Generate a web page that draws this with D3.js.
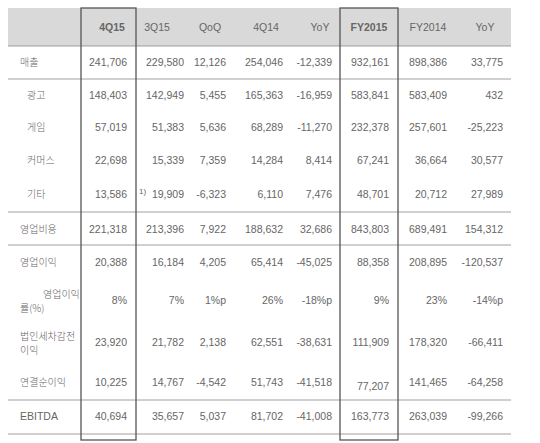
<!DOCTYPE html>
<html><head><meta charset="utf-8">
<script src="https://cdn.jsdelivr.net/npm/d3@7"></script>
<style>body{margin:0;background:#fff}text{font-family:"Liberation Sans","Noto Sans CJK KR",Arial,sans-serif}</style>
</head><body><div id="a"></div>
<script>
const columns = ["4Q15","3Q15","QoQ","4Q14","YoY","FY2015","FY2014","YoY"]
const rowLabels = ["매출","광고","게임","커머스","기타","영업비용","영업이익","영업이익률(%)","법인세차감전이익","연결순이익","EBITDA"]
const q4_15  = ["241,706","148,403","57,019","22,698","13,586","221,318","20,388","8%","23,920","10,225","40,694"]
const q3_15  = ["229,580","142,949","51,383","15,339","19,909","213,396","16,184","7%","21,782","14,767","35,657"]
const qoq    = ["12,126","5,455","5,636","7,359","-6,323","7,922","4,205","1%p","2,138","-4,542","5,037"]
const q4_14  = ["254,046","165,363","68,289","14,284","6,110","188,632","65,414","26%","62,551","51,743","81,702"]
const yoyQ   = ["-12,339","-16,959","-11,270","8,414","7,476","32,686","-45,025","-18%p","-38,631","-41,518","-41,008"]
const fy2015 = ["932,161","583,841","232,378","67,241","48,701","843,803","88,358","9%","111,909","77,207","163,773"]
const fy2014 = ["898,386","583,409","257,601","36,664","20,712","689,491","208,895","23%","178,320","141,465","263,039"]
const yoyFY  = ["33,775","432","-25,223","30,577","27,989","154,312","-120,537","-14%p","-66,411","-64,258","-99,266"]
const series = [q4_15,q3_15,qoq,q4_14,yoyQ,fy2015,fy2014,yoyFY]

const W=540,H=443
const svg=d3.select("#a").append("svg").attr("width",W).attr("height",H)
const colRight=d3.scaleOrdinal().domain(d3.range(8)).range([127,184,226,283,332,389,447,503])
const colHead=d3.scaleOrdinal().domain(d3.range(8)).range([112,157,210,266,320,369,428,485])
const rowY=d3.scaleOrdinal().domain(d3.range(11)).range([62,95,127,160,194,229,262,300,342,382,416])
const L=8,R=511,ink="#666"

svg.append("rect").attr("x",L).attr("y",8).attr("width",R-L).attr("height",38).attr("fill","#d9d9d9")
for(const y of [46,79,212,245,400,434])
  svg.append("line").attr("x1",L).attr("x2",R).attr("y1",y).attr("y2",y).attr("stroke","#888").attr("stroke-width",0.8)

svg.selectAll(".h").data(columns).join("text")
  .attr("x",(d,i)=>colHead(i)).attr("y",31).attr("text-anchor","middle")
  .attr("font-size",10.5).attr("fill",ink)
  .attr("font-weight",(d,i)=>i==0||i==5?"bold":null).text(d=>d)

series.forEach((s,ci)=>{
  svg.selectAll(".c"+ci).data(s).join("text")
    .attr("x",colRight(ci)).attr("y",(d,ri)=>rowY(ri)+(ci==5&&ri==9?4:0)+4).attr("text-anchor","end")
    .attr("font-size",10.5).attr("fill",ink).text(d=>d)
})
svg.append("text").attr("x",139).attr("y",rowY(4)).attr("font-size",8).attr("fill",ink).text("1)")

const lab=(t,x,y)=>svg.append("text").attr("x",x).attr("y",y).attr("font-size",10).attr("fill",ink)
  .style("font-family","'Noto Sans CJK KR',sans-serif").attr("font-weight",300).text(t)
rowLabels.forEach((t,i)=>{
  const y=rowY(i)+4
  if(i==7){lab("영업이익",43,y-6);lab("률(%)",20,y+8)}
  else if(i==8){lab("법인세차감전",20,y-6);lab("이익",20,y+8)}
  else if(i==10) svg.append("text").attr("x",20).attr("y",y).attr("font-size",10.5).attr("fill",ink).text(t)
  else lab(t,(i>=1&&i<=4)?27:20,y)
})

for(const [x1,x2] of [[81,136],[340,398]])
  svg.append("rect").attr("x",x1).attr("y",8).attr("width",x2-x1).attr("height",432)
    .attr("fill","none").attr("stroke","#555").attr("stroke-width",1.3)
</script></body></html>
